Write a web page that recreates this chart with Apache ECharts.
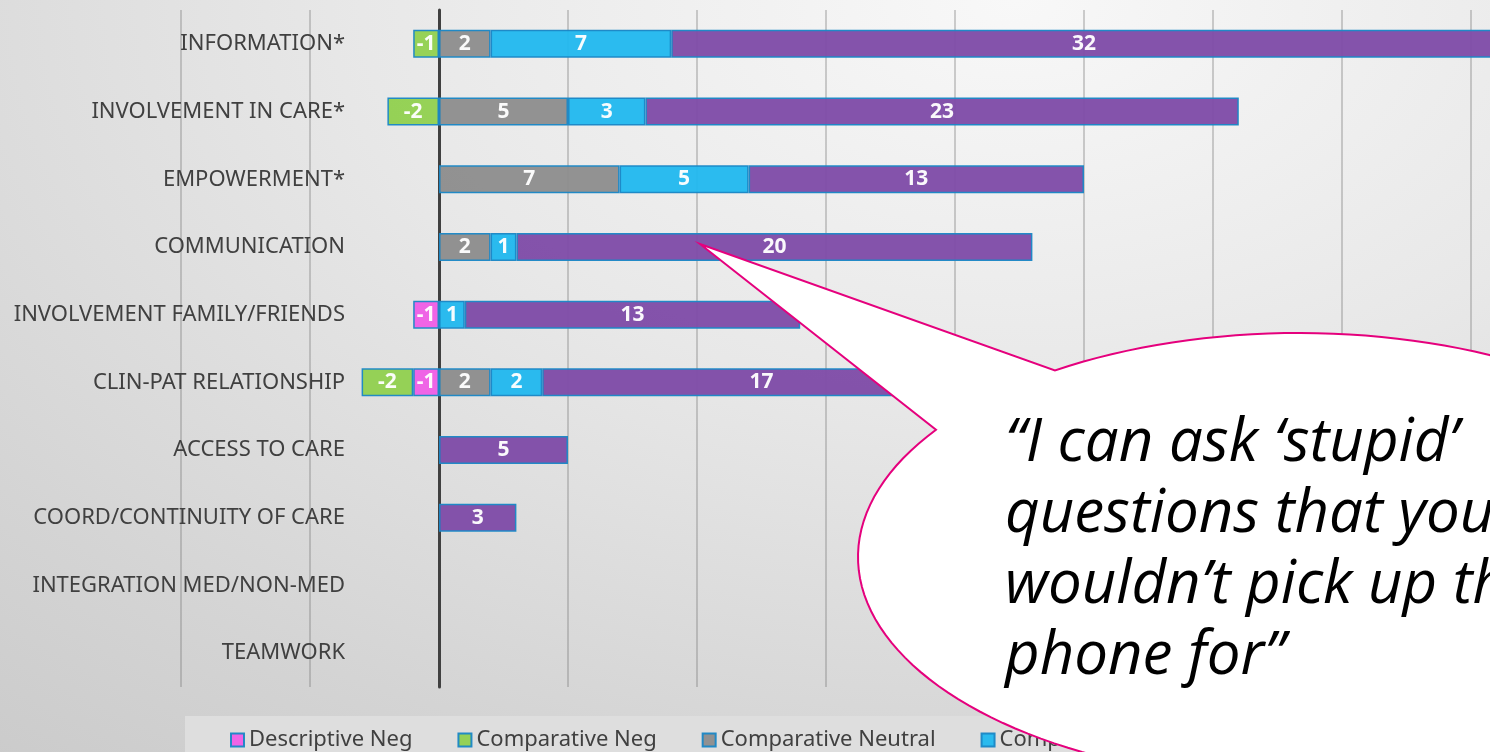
<!DOCTYPE html>
<html>
<head>
<meta charset="utf-8">
<title>Patient experience themes</title>
<script src="https://cdn.jsdelivr.net/npm/echarts@6/dist/echarts.min.js"></script>
<style>
  html, body { margin: 0; padding: 0; width: 1490px; height: 752px; overflow: hidden; }
  body {
    background: radial-gradient(ellipse 115% 140% at 68% 0%, #f8f8f8 0%, #e8e8e8 38%, #d4d4d4 75%, #c8c8c8 100%);
  }
  #chart { width: 1490px; height: 752px; }
</style>
</head>
<body>
<div id="chart"></div>
<script>
// Themes, listed top to bottom
const categories = [
  'INFORMATION*',
  'INVOLVEMENT IN CARE*',
  'EMPOWERMENT*',
  'COMMUNICATION',
  'INVOLVEMENT FAMILY/FRIENDS',
  'CLIN-PAT RELATIONSHIP',
  'ACCESS TO CARE',
  'COORD/CONTINUITY OF CARE',
  'INTEGRATION MED/NON-MED',
  'TEAMWORK'
];

// Comment counts per theme (negative comments counted below zero)
const descriptiveNeg     = [null, null, null, null, -1, -1, null, null, null, null];
const comparativeNeg     = [-1, -2, null, null, null, -2, null, null, null, null];
const comparativeNeutral = [2, 5, 7, 2, null, 2, null, null, null, null];
const comparativePos     = [7, 3, 5, 1, 1, 2, null, null, null, null];
const descriptivePos     = [32, 23, 13, 20, 13, 17, 5, 3, null, null];

const seriesNames = ['Descriptive Neg', 'Comparative Neg', 'Comparative Neutral', 'Comparative Pos', 'Descriptive Pos'];
const seriesData = [descriptiveNeg, comparativeNeg, comparativeNeutral, comparativePos, descriptivePos];
const seriesColors = ['#ef5fe6', '#92d050', '#8e8e8e', '#22b8ee', '#7f4ca8'];

// Quote shown in the callout
const quoteLines = [
  '\u201CI can ask \u2018stupid\u2019',
  'questions that you',
  'wouldn\u2019t pick up the',
  'phone for\u201D'
];

const chart = echarts.init(document.getElementById('chart'), null, { renderer: 'canvas' });

const series = seriesNames.map((name, i) => ({
  name: name,
  type: 'bar',
  stack: 'total',
  barWidth: 28,
  data: seriesData[i],
  itemStyle: {
    color: seriesColors[i],
    borderColor: '#1b87c6',
    borderWidth: 1.5,
    opacity: 0.96
  },
  label: {
    show: true,
    position: 'inside',
    color: '#ffffff',
    fontFamily: 'Noto Sans',
    fontWeight: 'bold',
    fontSize: 21
  }
}));

// Callout bubble outline: an ellipse with a pointer reaching the COMMUNICATION bar
function calloutPoints() {
  const cx = 1299, cy = 557, rx = 441, ry = 224;
  const tip = [700, 244];
  const start = 214.6, end = -123.6;   // degrees, walking round the far side
  const pts = [tip];
  const steps = 160;
  for (let k = 0; k <= steps; k++) {
    const a = (start + (end - start) * k / steps) * Math.PI / 180;
    pts.push([cx + rx * Math.cos(a), cy + ry * Math.sin(a)]);
  }
  return pts;
}

const quoteGraphics = quoteLines.map((line, i) => ({
  type: 'text',
  left: 1005,
  top: 414 + i * 71,
  z: 102,
  style: {
    text: line,
    fill: '#000000',
    fontFamily: 'Open Sans',
    fontStyle: 'italic',
    fontSize: 60
  }
}));

chart.setOption({
  backgroundColor: 'transparent',
  animation: false,
  grid: {
    left: 181,
    right: -110,
    top: 10,
    bottom: 65,
    outerBoundsMode: 'none',
    containLabel: false
  },
  xAxis: {
    type: 'value',
    min: -10,
    max: 45,
    interval: 5,
    axisLabel: { show: false },
    axisTick: { show: false },
    axisLine: { show: false },
    splitLine: {
      show: true,
      lineStyle: { color: 'rgba(120,120,120,0.35)', width: 2 }
    }
  },
  yAxis: {
    type: 'category',
    data: categories,
    inverse: true,
    axisTick: { show: false },
    axisLine: {
      show: true,
      onZero: true,
      lineStyle: { color: '#404040', width: 3 }
    },
    axisLabel: {
      margin: -164,
      align: 'right',
      color: '#404040',
      fontFamily: 'Noto Sans',
      fontSize: 22
    },
    splitLine: { show: false }
  },
  legend: {
    data: seriesNames,
    left: 185,
    top: 716,
    orient: 'horizontal',
    icon: 'rect',
    itemWidth: 13,
    itemHeight: 13,
    itemGap: 45,
    padding: [13, 60, 30, 45],
    backgroundColor: '#dedede',
    textStyle: {
      color: '#404040',
      fontFamily: 'Noto Sans',
      fontSize: 22
    }
  },
  series: series,
  graphic: [
    {
      type: 'polygon',
      z: 100,
      shape: { points: calloutPoints() },
      style: { fill: '#ffffff', stroke: '#e5007d', lineWidth: 2 }
    }
  ].concat(quoteGraphics)
});
</script>
</body>
</html>
